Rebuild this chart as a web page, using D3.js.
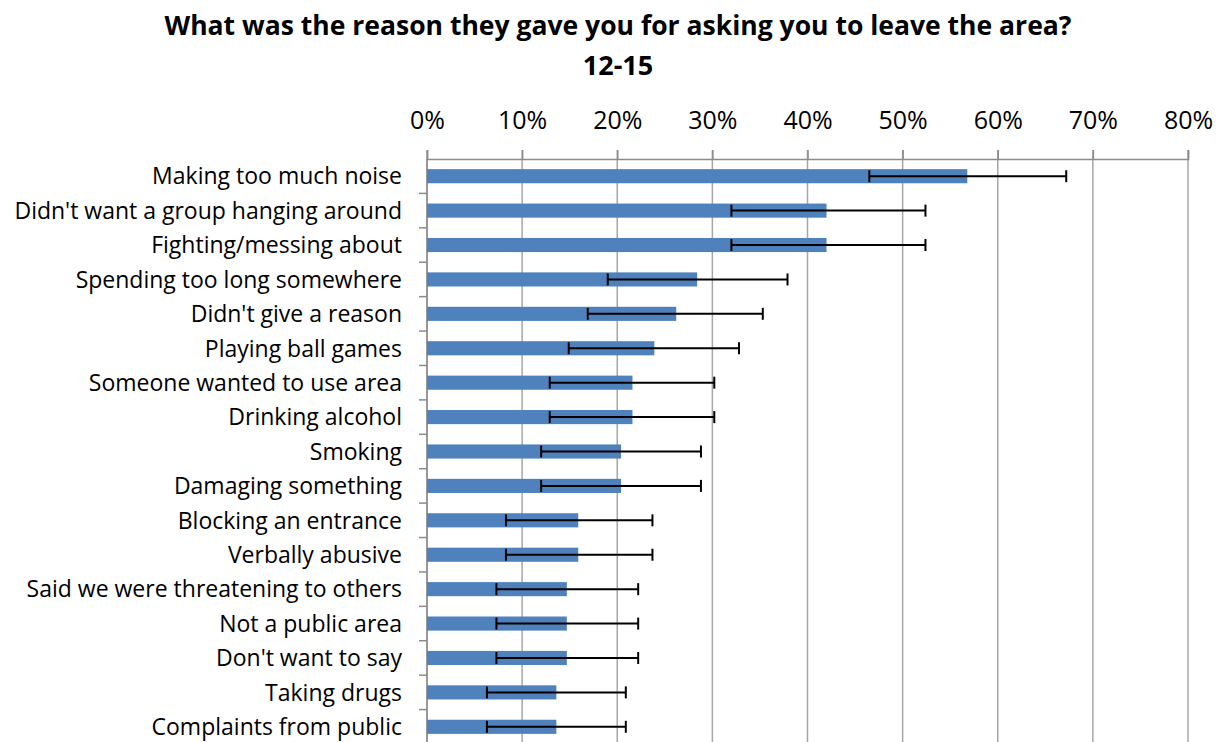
<!DOCTYPE html>
<html><head><meta charset="utf-8">
<script src="https://cdn.jsdelivr.net/npm/d3@7"></script>
<style>body{margin:0;background:#fff}svg{display:block}</style>
</head><body>
<svg id="c" width="1216" height="742"></svg>
<script>
const categories = ["Making too much noise","Didn't want a group hanging around","Fighting/messing about","Spending too long somewhere","Didn't give a reason","Playing ball games","Someone wanted to use area","Drinking alcohol","Smoking","Damaging something","Blocking an entrance","Verbally abusive","Said we were threatening to others","Not a public area","Don't want to say","Taking drugs","Complaints from public"];
const values = [56.8,42.0,42.0,28.4,26.2,23.9,21.6,21.6,20.4,20.4,15.9,15.9,14.7,14.7,14.7,13.6,13.6];
const errLow = [46.5,32.0,32.0,19.0,16.9,14.9,12.9,12.9,12.0,12.0,8.3,8.3,7.3,7.3,7.3,6.3,6.3];
const errHigh = [67.2,52.4,52.4,37.9,35.3,32.8,30.2,30.2,28.8,28.8,23.7,23.7,22.2,22.2,22.2,20.9,20.9];
const tickValues = [0,10,20,30,40,50,60,70,80];
const titleLines = ["What was the reason they gave you for asking you to leave the area?","12-15"];

const svg = d3.select("#c");
const font = "'Open Sans', sans-serif";
const x = d3.scaleLinear().domain([0,80]).range([427,1188]);
const y = d3.scaleBand().domain(categories).range([159,744]).paddingInner(0.59).paddingOuter(0.295);
const axisColor = "#8c8c8c";

// gridlines
svg.append("g").selectAll("line").data(tickValues).join("line")
  .attr("x1",d=>x(d)).attr("x2",d=>x(d)).attr("y1",150).attr("y2",744)
  .attr("stroke","#a6a6a6").attr("stroke-width",1.5);

// top axis
const xa = svg.append("g").attr("transform","translate(0,159)")
  .call(d3.axisTop(x).tickValues(tickValues).tickSize(9).tickFormat(d=>d+"%"));
xa.select(".domain").attr("stroke",axisColor).attr("stroke-width",1.5);
xa.selectAll(".tick line").attr("stroke",axisColor).attr("stroke-width",1.5);
xa.selectAll("text").attr("font-family",font).attr("font-size",25).attr("fill","#000").attr("dy",0).attr("y",-30);

// category axis
const yb = d3.scaleBand().domain(categories).range([159,744]);
svg.append("g").selectAll("line").data(categories.slice(1)).join("line")
  .attr("x1",419).attr("x2",427).attr("y1",d=>yb(d)).attr("y2",d=>yb(d))
  .attr("stroke",axisColor).attr("stroke-width",1.5);
svg.append("line").attr("x1",427).attr("x2",427).attr("y1",159).attr("y2",744)
  .attr("stroke",axisColor).attr("stroke-width",1.5);

// labels
svg.append("g").selectAll("text").data(categories).join("text")
  .attr("x",402).attr("y",d=>yb(d)+yb.bandwidth()/2).attr("dy","0.36em")
  .attr("text-anchor","end").attr("font-family",font).attr("font-size",23).attr("fill","#000")
  .text(d=>d);

// bars
svg.append("g").selectAll("rect").data(categories).join("rect")
  .attr("x",x(0)).attr("y",d=>y(d)).attr("height",y.bandwidth())
  .attr("width",(d,i)=>x(values[i])-x(0)).attr("fill","#4f81bd");

// error bars
const eg = svg.append("g").attr("stroke","#000").attr("stroke-width",2);
categories.forEach((c,i)=>{
  const cy = y(c)+y.bandwidth()/2;
  eg.append("line").attr("x1",x(errLow[i])).attr("x2",x(errHigh[i])).attr("y1",cy).attr("y2",cy);
  [errLow[i],errHigh[i]].forEach(v=>eg.append("line").attr("x1",x(v)).attr("x2",x(v)).attr("y1",cy-6).attr("y2",cy+6));
});

// title
svg.append("g").selectAll("text").data(titleLines).join("text")
  .attr("x",618).attr("y",(d,i)=>35+i*40).attr("text-anchor","middle")
  .attr("font-family",font).attr("font-weight","bold").attr("font-size",(d,i)=>i===0?26:27).attr("fill","#000")
  .attr("textLength",(d,i)=>i===0?907:null).attr("lengthAdjust","spacingAndGlyphs")
  .text(d=>d);
</script>
</body></html>
